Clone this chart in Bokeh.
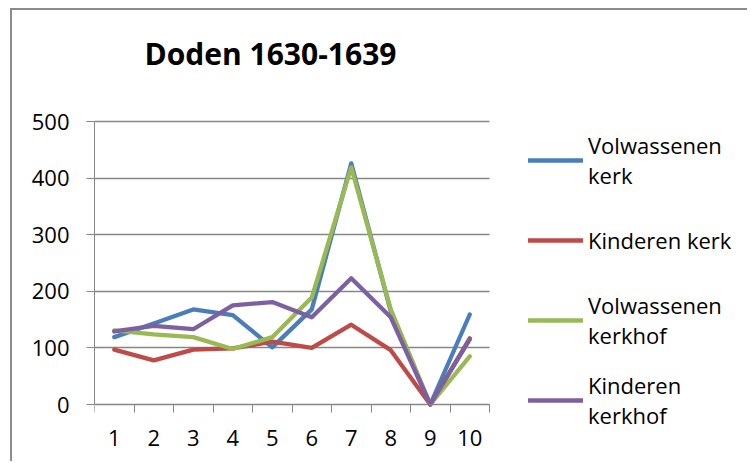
from bokeh.plotting import figure
from bokeh.models import Range1d, FixedTicker, Legend, LegendItem, Label
from bokeh.embed import file_html
from bokeh.resources import INLINE

categories = [1, 2, 3, 4, 5, 6, 7, 8, 9, 10]
volwassenen_kerk = [119, 143, 168, 158, 101, 168, 426, 165, 0, 159]
kinderen_kerk = [97, 78, 97, 99, 111, 100, 141, 96, 0, 117]
volwassenen_kerkhof = [131, 124, 119, 98, 119, 189, 419, 168, 0, 85]
kinderen_kerkhof = [129, 139, 133, 175, 181, 154, 223, 154, 0, 115]
series_names = ["Volwassenen\nkerk", "Kinderen kerk", "Volwassenen\nkerkhof", "Kinderen\nkerkhof"]
colors = ["#4a7ebb", "#be4b48", "#98b954", "#7d60a0"]
y_ticks = [0, 100, 200, 300, 400, 500]
title_text = "Doden 1630-1639"

FONT = "Open Sans"
GRAY = "#868686"

# layout (pixels)
W, H = 737, 453
LEFT = 82
PLOT_W = 395          # width of the category area
TOP_Y = 111           # canvas y of the highest value tick
ZERO_Y = 394          # canvas y of the value axis origin
x_lo = categories[0] - 0.5
x_hi = categories[-1] + 0.5
px_per_cat = PLOT_W / (x_hi - x_lo)
x_end = x_lo + (W - LEFT) / px_per_cat
px_per_unit = (ZERO_Y - TOP_Y) / y_ticks[-1]
y_end = ZERO_Y / px_per_unit
y_start = -(H - ZERO_Y) / px_per_unit

p = figure(width=W, height=H, output_backend="svg", toolbar_location=None,
           x_range=Range1d(x_lo, x_end), y_range=Range1d(y_start, y_end),
           min_border_left=LEFT, min_border_top=0, min_border_bottom=0, min_border_right=0)
p.styles = {"border-left": "2px solid #8c8c8c", "border-top": "2px solid #8c8c8c",
            "margin-left": "10px", "margin-top": "8px"}

p.outline_line_color = None
p.background_fill_color = "white"
p.border_fill_color = "white"

xa = p.below[0]
ya = p.left[0]

# y axis
ya.ticker = FixedTicker(ticks=y_ticks)
ya.bounds = (y_ticks[0], y_ticks[-1])
ya.axis_line_color = GRAY
ya.major_tick_line_color = GRAY
ya.major_tick_out = 8
ya.major_tick_in = 0
ya.minor_tick_line_color = None
ya.major_label_text_font = FONT
ya.major_label_text_font_size = "22px"
ya.major_label_text_color = "black"
ya.major_label_standoff = 17

# x axis, fixed at value 0
boundaries = [c - 0.5 for c in categories] + [categories[-1] + 0.5]
xa.ticker = FixedTicker(ticks=categories, minor_ticks=boundaries)
xa.fixed_location = 0
xa.bounds = (x_lo, x_hi)
xa.axis_line_color = GRAY
xa.major_tick_out = 0
xa.major_tick_in = 0
xa.minor_tick_line_color = GRAY
xa.minor_tick_out = 8
xa.minor_tick_in = 0
xa.major_label_text_font = FONT
xa.major_label_text_font_size = "22px"
xa.major_label_text_color = "black"
xa.major_label_standoff = 17

p.xgrid.grid_line_color = None
p.ygrid.ticker = FixedTicker(ticks=y_ticks)
p.ygrid.grid_line_color = GRAY
p.ygrid.grid_line_width = 1.3
try:
    p.ygrid.cross_bounds = (x_lo, x_hi)
except AttributeError:
    p.ygrid.grid_line_color = None
    p.segment(x0=[x_lo] * len(y_ticks), x1=[x_hi] * len(y_ticks), y0=y_ticks, y1=y_ticks,
              line_color=GRAY, line_width=1.3)

# chart title
p.add_layout(Label(text=title_text, x=176, y=410, x_units="screen", y_units="screen",
                   text_align="center", text_baseline="alphabetic",
                   text_font=FONT, text_font_style="bold", text_font_size="30px",
                   text_color="black"))

items = []
for name, vals, col in zip(series_names,
                           [volwassenen_kerk, kinderen_kerk, volwassenen_kerkhof, kinderen_kerkhof],
                           colors):
    r = p.line(categories, vals, line_color=col, line_width=4.3, line_cap="round", line_join="round")
    items.append(LegendItem(label=name, renderers=[r]))

legend = Legend(items=items, location=(434, 31), margin=0, padding=0,
                glyph_width=55, glyph_height=32, label_height=64, label_standoff=5, spacing=16,
                label_text_font=FONT, label_text_font_size="22px", label_text_color="black",
                border_line_alpha=0, background_fill_alpha=0)
p.add_layout(legend, "center")

open("out.html", "w").write(file_html(p, INLINE))
